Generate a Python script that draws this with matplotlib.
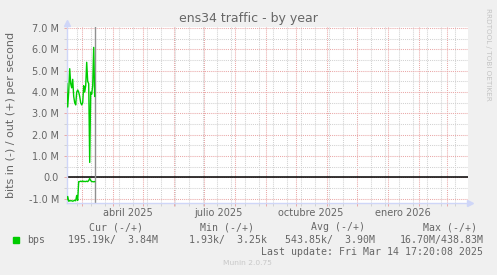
import matplotlib
matplotlib.use("Agg")
import matplotlib.pyplot as plt
import matplotlib.dates as mdates
import matplotlib.transforms as mtransforms
from matplotlib.ticker import FuncFormatter, MultipleLocator
import pandas as pd

# daily samples, Feb 14 - Mar 14 2025 (M bits per second)
days = pd.date_range("2025-02-14", "2025-03-14", freq="D")
bps_out = [4.4, 3.3, 4.0, 5.1, 4.4, 4.2, 4.6, 3.8, 3.5, 3.4,
           4.0, 4.1, 4.0, 3.8, 3.5, 3.4, 3.5, 4.3, 4.0, 4.3,
           5.4, 4.5, 4.4, 0.7, 4.0, 3.9, 4.3, 6.1, 3.8]
bps_in = [-1.05, -0.9, -1.12, -1.1, -1.1, -1.1, -1.12, -1.1, -1.08, -1.1,
          -0.85, -1.08, -0.2, -0.2, -0.18, -0.2, -0.17, -0.2, -0.19, -0.2,
          -0.18, -0.2, -0.15, -0.05, -0.15, -0.2, -0.2, -0.21, -0.2]

month_labels = ["abril 2025", "julio 2025", "octubre 2025", "enero 2026"]
month_label_dates = ["2025-04-16", "2025-07-16", "2025-10-16", "2026-01-16"]

legend_heads = ["Cur (-/+)", "Min (-/+)", "Avg (-/+)", "Max (-/+)"]
legend_in = ["195.19k", "1.93k", "543.85k", "16.70M"]
legend_out = ["3.84M", "3.25k", "3.90M", "438.83M"]
last_update = "Last update: Fri Mar 14 17:20:08 2025"
now = pd.Timestamp("2025-03-14 17:20")

W, H = 497, 275
BACK = "#f0f0f0"
FONT = "#666666"
AXIS = "#cfd6f8"
MGRID = "#eaa8a8"
GRID = "#d2d2d2"
GREEN = "#00cc00"


def fx(px):
    return px / W


def fy(py):
    return 1 - py / H


fig = plt.figure(figsize=(W / 100, H / 100), dpi=100, facecolor=BACK)
ax = fig.add_axes([fx(66.7), fy(202.7), (468 - 66.7) / W, (202.7 - 26.7) / H])
ax.set_facecolor("white")

ax.plot(days, bps_out, color=GREEN, lw=1.0, zorder=3)
ax.plot(days, bps_in, color=GREEN, lw=1.0, zorder=3)
ax.axhline(0, color="black", lw=1.1, zorder=2)
ax.axvline(now, color="#909090", lw=1.0, zorder=2)

x0 = pd.Timestamp("2025-02-14")
ax.set_xlim(x0, x0 + pd.Timedelta(days=401.3))
ax.set_ylim(-1.19, 7.07)

# grid: months + every other monday, 1M + 0.5M
ax.xaxis.set_major_locator(mdates.MonthLocator())
ax.xaxis.set_minor_locator(mdates.WeekdayLocator(byweekday=mdates.MO, interval=2))
ax.xaxis.set_major_formatter(FuncFormatter(lambda v, p: ""))
ax.yaxis.set_major_locator(MultipleLocator(1.0))
ax.yaxis.set_minor_locator(MultipleLocator(0.5))
ax.yaxis.set_major_formatter(FuncFormatter(lambda v, p: "0.0" if abs(v) < 1e-9 else f"{v:.1f} M"))

dots = (0, (1, 1))
ax.grid(which="major", color=MGRID, lw=0.75, linestyle=dots, zorder=1)
ax.grid(which="minor", color=GRID, lw=0.75, linestyle=dots, zorder=1)
ax.tick_params(which="major", length=2.5, width=0.7, color=MGRID, labelsize=7,
               labelcolor=FONT, pad=3)
ax.tick_params(which="minor", length=2.5, width=0.7, color=GRID)

for s in ["top", "right"]:
    ax.spines[s].set_visible(False)
for s in ["left", "bottom"]:
    ax.spines[s].set_color(AXIS)
    ax.spines[s].set_linewidth(1.0)

# axis arrows
ax.plot([0], [1.02], marker="^", ms=4.5, color=AXIS, transform=ax.transAxes, clip_on=False)
ax.plot([1.006], [0], marker=">", ms=4.5, color=AXIS, transform=ax.transAxes, clip_on=False)

# month labels centred mid-month
trans = mtransforms.blended_transform_factory(ax.transData, fig.transFigure)
for lab, d in zip(month_labels, month_label_dates):
    ax.text(pd.Timestamp(d), fy(213), lab, transform=trans, ha="center", va="center",
            fontsize=7, color=FONT)

fig.text(fx(248.3), fy(22), "ens34 traffic - by year", ha="center", va="baseline",
         fontsize=9, color=FONT)
fig.text(fx(11.5), fy(115), "bits in (-) / out (+) per second", rotation=90,
         ha="center", va="center", fontsize=8, color=FONT)
fig.text(fx(488), fy(54), "RRDTOOL / TOBI OETIKER", rotation=270, ha="center",
         va="center", fontsize=5.2, color="#c4c4c4")

# legend block
mono = "DejaVu Sans Mono"
head_right = [142.7, 254, 365, 476.7]
val_right = [157.7, 266.7, 375, 483.3]
for h, xr in zip(legend_heads, head_right):
    fig.text(fx(xr), fy(227.3), h, ha="right", va="center", family=mono,
             fontsize=7.1, color=FONT)
fig.patches.append(plt.Rectangle((fx(13.3), fy(243)), 6 / W, 6 / H, color=GREEN,
                                 transform=fig.transFigure, figure=fig))
fig.text(fx(26.7), fy(240), "bps", ha="left", va="center", family=mono,
         fontsize=7.1, color=FONT)
for vi, vo, xr in zip(legend_in, legend_out, val_right):
    fig.text(fx(xr), fy(240), f"{vi}/{vo:>7}", ha="right", va="center", family=mono,
             fontsize=7.1, color=FONT)
fig.text(fx(482.7), fy(251.7), last_update, ha="right", va="center", family=mono,
         fontsize=7.1, color=FONT)
fig.text(fx(247.7), fy(263.3), "Munin 2.0.75", ha="center", va="center",
         fontsize=5.4, color="#c8c8c8")

fig.savefig("out.png", dpi=100, facecolor=BACK)
